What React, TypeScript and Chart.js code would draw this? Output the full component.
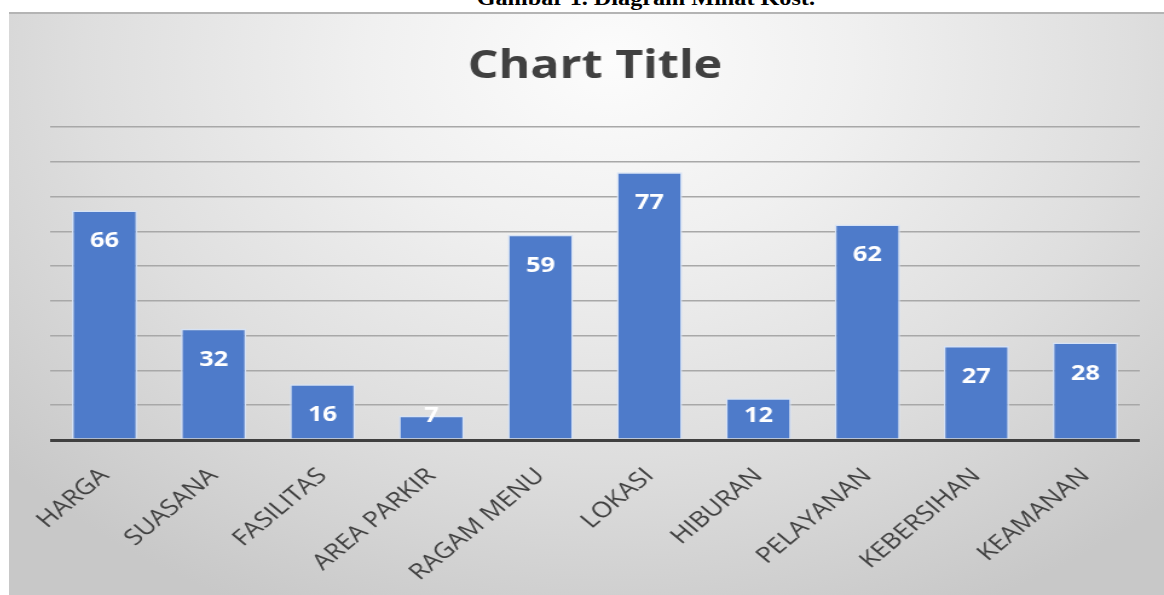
import React, { useEffect, useRef } from "react";
import { Chart, registerables } from "chart.js";

Chart.register(...registerables);

const categories = [
  "HARGA",
  "SUASANA",
  "FASILITAS",
  "AREA PARKIR",
  "RAGAM MENU",
  "LOKASI",
  "HIBURAN",
  "PELAYANAN",
  "KEBERSIHAN",
  "KEAMANAN",
];
const values = [66, 32, 16, 7, 59, 77, 12, 62, 27, 28];
const yMin = 0;
const yMax = 90;
const yStep = 10;
const chartTitle = "Chart Title";
const caption = "Gambar 1. Diagram Minat Kost.";

// the reference picture is stretched horizontally
const STRETCH = 1.21;
const BOX_W = 1155;
const BOX_H = 583;
const CANVAS_W = Math.round(BOX_W / STRETCH);

const valueLabelPlugin = {
  id: "valueLabels",
  afterDatasetsDraw(chart: any) {
    const ctx = chart.ctx;
    const meta = chart.getDatasetMeta(0);
    const base = chart.scales.y.getPixelForValue(0);
    ctx.save();
    ctx.fillStyle = "#ffffff";
    ctx.font = "bold 21px 'Open Sans'";
    ctx.textAlign = "center";
    ctx.textBaseline = "middle";
    meta.data.forEach((bar: any, i: number) => {
      const y = Math.min(bar.y + 31, base - 24);
      ctx.fillText(String(values[i]), bar.x, y);
    });
    ctx.restore();
  },
};

export default function App() {
  const ref = useRef<HTMLCanvasElement | null>(null);

  useEffect(() => {
    if (!ref.current) return;
    const chart = new Chart(ref.current, {
      type: "bar",
      data: {
        labels: categories,
        datasets: [
          {
            data: values,
            backgroundColor: "#4e7bca",
            borderColor: "#d6e2f5",
            borderWidth: 1.5,
            barPercentage: 0.6,
            categoryPercentage: 1,
          },
        ],
      },
      options: {
        responsive: false,
        animation: false,
        devicePixelRatio: 1,
        layout: { padding: { left: 34, right: 20, top: 0, bottom: 0 } },
        plugins: {
          legend: { display: false },
          tooltip: { enabled: false },
          title: {
            display: true,
            text: chartTitle,
            color: "#404040",
            font: { family: "'Open Sans'", size: 40, weight: "bold" },
            padding: { top: 31, bottom: 36 },
          },
        },
        scales: {
          x: {
            grid: { display: false },
            border: { display: false },
            ticks: {
              color: "#404040",
              font: { family: "'Open Sans'", size: 22 },
              minRotation: 45,
              maxRotation: 45,
              padding: 15,
              autoSkip: false,
            },
            afterFit: (scale: any) => {
              scale.height = 155;
            },
          },
          y: {
            min: yMin,
            max: yMax,
            ticks: { display: false, stepSize: yStep },
            border: { display: false },
            grid: {
              drawTicks: false,
              color: (c: any) => (c.tick && c.tick.value === 0 ? "#404040" : "#a8a8a8"),
              lineWidth: (c: any) => (c.tick && c.tick.value === 0 ? 3 : 1.5),
            },
            afterFit: (scale: any) => {
              scale.width = 0;
            },
          },
        },
      },
      plugins: [valueLabelPlugin],
    });
    return () => chart.destroy();
  }, []);

  return (
    <div
      style={{
        position: "fixed",
        left: 0,
        top: 0,
        width: 1164,
        height: 595,
        background: "#ffffff",
        overflow: "hidden",
      }}
    >
      <div
        style={{
          position: "absolute",
          left: 0,
          width: 1164,
          top: -13,
          textAlign: "center",
          paddingLeft: 128,
          boxSizing: "border-box",
          fontFamily: "'Liberation Serif', 'Times New Roman', serif",
          fontWeight: "bold",
          fontSize: 20,
          lineHeight: "22px",
          color: "#000",
        }}
      >
        <span
          style={{
            display: "inline-block",
            transform: `scaleX(${STRETCH})`,
            transformOrigin: "50% 50%",
          }}
        >
          {caption}
        </span>
      </div>
      <div
        style={{
          position: "absolute",
          left: 9,
          top: 12,
          width: BOX_W,
          height: BOX_H,
          borderTop: "2px solid #b4b4b4",
          boxSizing: "border-box",
          background:
            "radial-gradient(ellipse 70% 105% at 52% 8%, #fcfcfc 0%, #f0f0f0 30%, #dedede 65%, #c8c8c8 100%)",
        }}
      />
      <canvas
        ref={ref}
        width={CANVAS_W}
        height={BOX_H}
        style={{
          position: "absolute",
          left: 9,
          top: 12,
          transform: `scaleX(${BOX_W / CANVAS_W})`,
          transformOrigin: "0 0",
        }}
      />
    </div>
  );
}
